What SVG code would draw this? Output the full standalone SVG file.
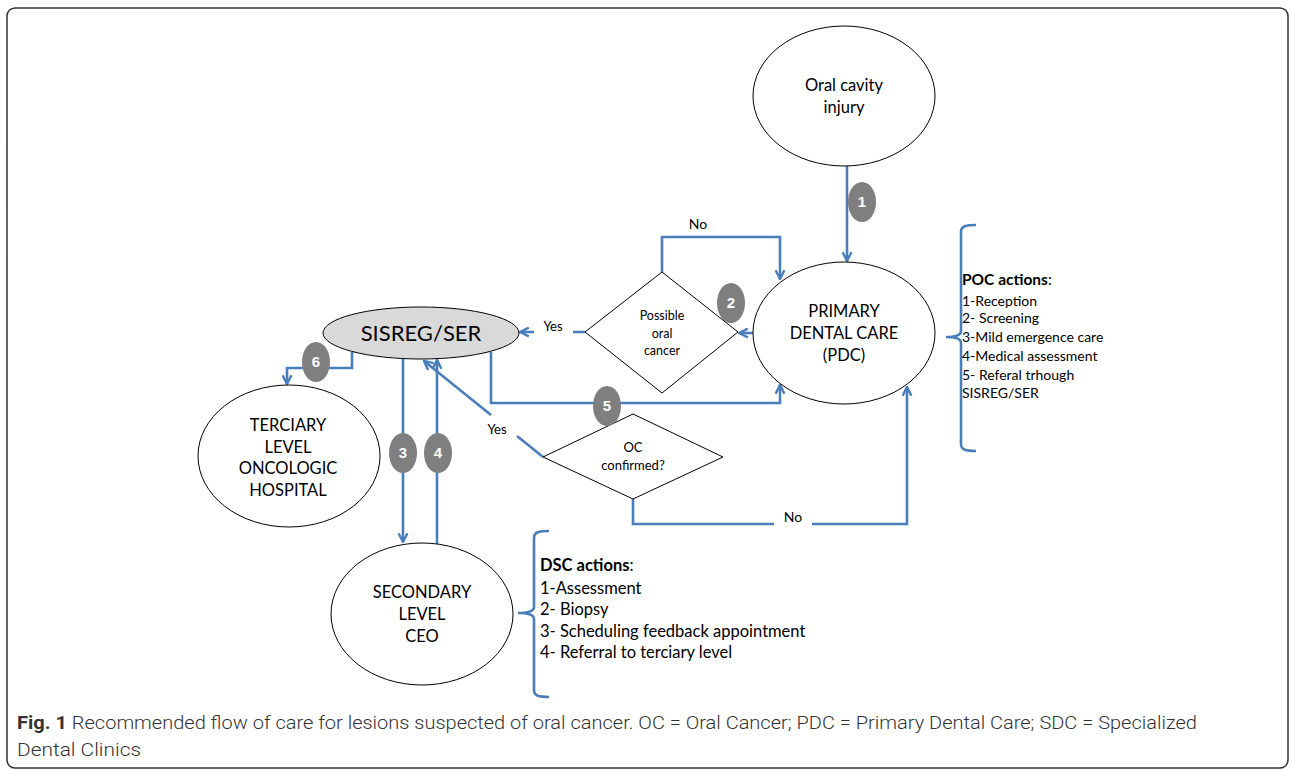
<svg xmlns="http://www.w3.org/2000/svg" width="1292" height="770" viewBox="0 0 1292 770">
<style>
.node{fill:#fff;stroke:#000;stroke-width:1}
.t{font-family:Lato,"Open Sans","Liberation Sans",sans-serif;fill:#000;text-anchor:middle}
.l{font-family:Lato,"Open Sans","Liberation Sans",sans-serif;fill:#000}
.c{fill:none;stroke:#4a7ebb;stroke-width:2.6}
.badge{fill:#7f7f7f}
.bt{font-family:"Liberation Sans",Arial,sans-serif;font-weight:bold;font-size:15px;fill:#fff;text-anchor:middle}
</style>
<defs>
<marker id="ah" viewBox="0 0 10 10" refX="9" refY="5" markerWidth="11" markerHeight="11" markerUnits="userSpaceOnUse" orient="auto">
<path d="M1,1 L9,5 L1,9" fill="none" stroke="#4a7ebb" stroke-width="2.2"/>
</marker>
</defs>
<rect x="7" y="8" width="1281" height="760" rx="8" fill="#fff" stroke="#333" stroke-width="1.5"/>

<g id="connectors">
<path class="c" d="M847,166 L847,261" marker-end="url(#ah)"/>
<path class="c" d="M753,333 L739,333" marker-end="url(#ah)"/>
<path class="c" d="M585,332 L573,332"/>
<path class="c" d="M534,332 L520,332" marker-end="url(#ah)"/>
<path class="c" d="M662,272 L662,237 L780,237 L780,279" marker-end="url(#ah)"/>
<path class="c" d="M491,352 L491,403 L780,403 L780,385" marker-end="url(#ah)"/>
<path class="c" d="M543,457 L517,436"/>
<path class="c" d="M491,415 L424,361" marker-end="url(#ah)"/>
<path class="c" d="M633,499 L633,524 L774,524"/>
<path class="c" d="M812,524 L907,524 L907,387" marker-end="url(#ah)"/>
<path class="c" d="M403,359 L403,542" marker-end="url(#ah)"/>
<path class="c" d="M437,545 L437,360" marker-end="url(#ah)"/>
<path class="c" d="M352,352 L352,368 L287,368 L287,384" marker-end="url(#ah)"/>
<path class="c" d="M976,225 C966,225 961,226 961,232 L961,331 Q961,337 946,337 Q961,337 961,343 L961,444 C961,450 966,451 976,451"/>
<path class="c" d="M549,531 C539,531 534,532 534,538 L534,607 Q534,613 518,613 Q534,613 534,619 L534,690 C534,696 539,697 549,697"/>
</g>

<g id="oral-cavity-injury">
<ellipse class="node" cx="844" cy="96" rx="91" ry="70"/>
<text class="t" font-size="16.5" x="844" y="91">Oral cavity</text>
<text class="t" font-size="16.5" x="844" y="113">injury</text>
</g>

<g id="pdc">
<ellipse class="node" cx="844" cy="333" rx="91" ry="71"/>
<text class="t" font-size="16.5" x="844" y="317">PRIMARY</text>
<text class="t" font-size="16.5" x="844" y="339">DENTAL CARE</text>
<text class="t" font-size="16.5" x="844" y="361">(PDC)</text>
</g>

<g id="sisreg">
<ellipse cx="421" cy="333" rx="98" ry="26" fill="#d9d9d9" stroke="#000" stroke-width="1"/>
<text class="t" font-size="22" x="421" y="341">SISREG/SER</text>
</g>

<g id="possible-oral-cancer">
<polygon class="node" points="662,272 738,332 662,393 585,332"/>
<text class="t" font-size="12.5" x="662" y="320">Possible</text>
<text class="t" font-size="12.5" x="662" y="338">oral</text>
<text class="t" font-size="12.5" x="662" y="355">cancer</text>
</g>

<g id="oc-confirmed">
<polygon class="node" points="633,414 723,457 633,499 543,457"/>
<text class="t" font-size="13" x="633" y="452">OC</text>
<text class="t" font-size="13" x="633" y="470">confirmed?</text>
</g>

<g id="terciary">
<ellipse class="node" cx="289" cy="456" rx="91" ry="71"/>
<text class="t" font-size="16.5" x="288" y="431">TERCIARY</text>
<text class="t" font-size="16.5" x="288" y="453">LEVEL</text>
<text class="t" font-size="16.5" x="288" y="474">ONCOLOGIC</text>
<text class="t" font-size="16.5" x="288" y="496">HOSPITAL</text>
</g>

<g id="secondary">
<ellipse class="node" cx="422" cy="614" rx="91" ry="71"/>
<text class="t" font-size="16.5" x="422" y="598">SECONDARY</text>
<text class="t" font-size="16.5" x="422" y="620">LEVEL</text>
<text class="t" font-size="16.5" x="422" y="642">CEO</text>
</g>

<g id="labels">
<text class="t" font-size="13" x="553" y="331">Yes</text>
<text class="t" font-size="13" x="497" y="434">Yes</text>
<text class="t" font-size="14" x="698" y="229">No</text>
<text class="t" font-size="14" x="793" y="522">No</text>
</g>

<g id="badges">
<ellipse class="badge" cx="862" cy="202" rx="14" ry="20"/><text class="bt" x="862" y="207">1</text>
<ellipse class="badge" cx="731" cy="303" rx="14" ry="20"/><text class="bt" x="731" y="308">2</text>
<ellipse class="badge" cx="403" cy="453" rx="14" ry="20"/><text class="bt" x="403" y="458">3</text>
<ellipse class="badge" cx="438" cy="453" rx="14" ry="20"/><text class="bt" x="438" y="458">4</text>
<ellipse class="badge" cx="607" cy="406" rx="14" ry="20"/><text class="bt" x="607" y="411">5</text>
<ellipse class="badge" cx="316" cy="362" rx="14" ry="20"/><text class="bt" x="316" y="367">6</text>
</g>

<g id="poc-actions">
<text class="l" font-size="15.5" x="962" y="285"><tspan font-weight="bold">POC actions</tspan>:</text>
<text class="l" font-size="14" x="962" y="306">1-Reception</text>
<text class="l" font-size="14" x="962" y="323">2- Screening</text>
<text class="l" font-size="14" x="962" y="342">3-Mild emergence care</text>
<text class="l" font-size="14" x="962" y="361">4-Medical assessment</text>
<text class="l" font-size="14" x="962" y="380">5- Referal trhough</text>
<text class="l" font-size="14" x="962" y="398">SISREG/SER</text>
</g>

<g id="dsc-actions">
<text class="l" font-size="16.5" x="540" y="571"><tspan font-weight="bold">DSC actions</tspan>:</text>
<text class="l" font-size="16.5" x="540" y="594">1-Assessment</text>
<text class="l" font-size="16.5" x="540" y="615">2- Biopsy</text>
<text class="l" font-size="16.5" x="540" y="637">3- Scheduling feedback appointment</text>
<text class="l" font-size="16.5" x="540" y="658">4- Referral to terciary level</text>
</g>

<g id="caption">
<text font-family="Roboto,'Liberation Sans',sans-serif" font-weight="300" font-size="19" fill="#333" x="17" y="729" textLength="1180" lengthAdjust="spacingAndGlyphs"><tspan font-weight="bold">Fig. 1</tspan> Recommended flow of care for lesions suspected of oral cancer. OC = Oral Cancer; PDC = Primary Dental Care; SDC = Specialized</text>
<text font-family="Roboto,'Liberation Sans',sans-serif" font-weight="300" font-size="19" fill="#333" x="17" y="756" textLength="124" lengthAdjust="spacingAndGlyphs">Dental Clinics</text>
</g>
</svg>
